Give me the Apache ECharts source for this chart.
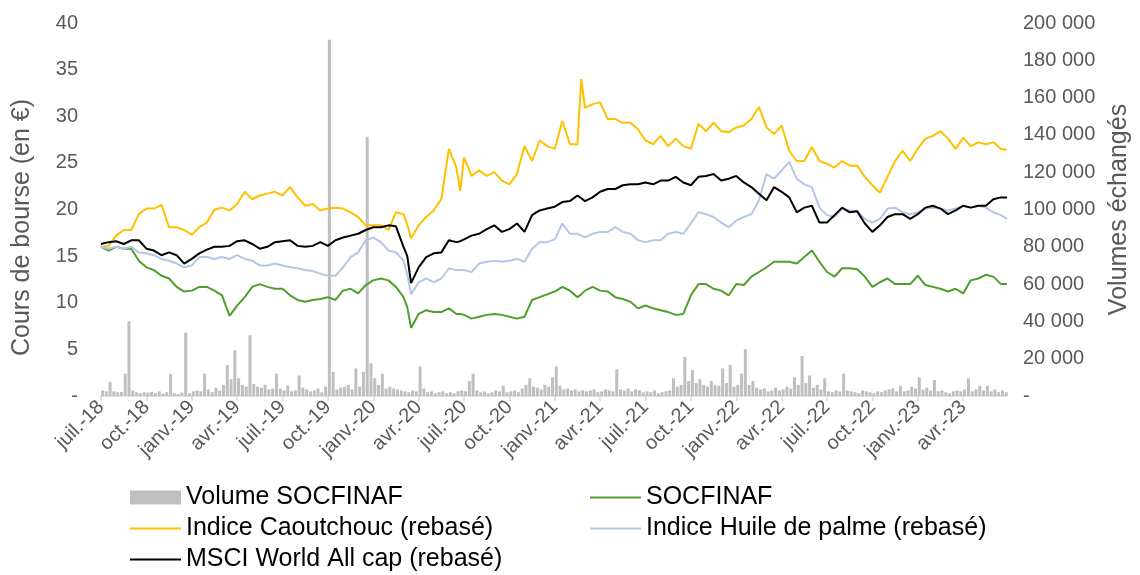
<!DOCTYPE html>
<html>
<head>
<meta charset="utf-8">
<script src="https://cdn.jsdelivr.net/npm/echarts@6/dist/echarts.min.js"></script>
<style>
  html, body { margin: 0; padding: 0; background: #fff; }
  #chart { width: 1140px; height: 575px; }
</style>
</head>
<body>
<div id="chart"></div>
<script>
// mois écoulés depuis le 1er juillet 2018
var lineMonths = [0,0.5,1,1.5,2,2.5,3,3.5,4,4.5,5,5.5,6,6.5,7,7.5,8,8.5,9,9.5,
  10,10.5,11,11.5,12,12.5,13,13.5,14,14.5,15,15.5,16,16.5,17,17.5,18,18.5,19,19.5,
  20,20.25,20.5,21,21.5,22,22.5,23,23.5,23.75,24,24.5,25,25.5,26,26.5,27,27.5,28,28.5,29,29.5,
  30,30.5,31,31.5,31.75,32,32.5,33,33.5,34,34.5,35,35.5,36,36.5,37,37.5,38,38.5,39,39.5,
  40,40.5,41,41.5,42,42.5,43,43.5,44,44.5,45,45.5,46,46.5,47,47.5,48,48.5,49,49.5,
  50,50.5,51,51.5,52,52.5,53,53.5,54,54.5,55,55.5,56,56.5,57,57.5,58,58.5,59,59.5,59.9];

var socfinaf = [16.0,15.6,16.0,15.8,15.8,14.5,13.8,13.5,12.9,12.6,11.7,11.2,11.3,11.7,11.7,11.3,10.8,8.6,9.7,10.6,
  11.7,12.0,11.7,11.5,11.5,10.8,10.3,10.1,10.3,10.4,10.6,10.3,11.3,11.5,11.0,11.9,12.4,12.6,12.4,11.7,
  10.6,9.5,7.3,8.8,9.2,9.0,9.0,9.4,8.8,8.8,8.7,8.3,8.5,8.7,8.8,8.7,8.5,8.3,8.5,10.3,10.6,10.9,
  11.2,11.7,11.3,10.6,10.9,11.3,11.7,11.3,11.2,10.6,10.4,10.1,9.4,9.7,9.4,9.2,9.0,8.7,8.8,10.8,12.0,
  12.0,11.5,11.3,10.8,12.0,11.9,12.8,13.3,13.8,14.4,14.4,14.4,14.2,14.9,15.6,14.4,13.3,12.8,13.7,13.7,
  13.6,12.8,11.7,12.2,12.6,12.0,12.0,12.0,12.9,11.9,11.7,11.5,11.2,11.5,11.0,12.4,12.6,13.0,12.8,12.0,12.0];

var caoutchouc = [16.0,16.1,17.2,17.8,17.8,19.5,20.1,20.1,20.5,18.1,18.1,17.8,17.3,18.1,18.6,20.0,20.2,19.9,20.6,21.9,
  21.1,21.5,21.7,21.9,21.5,22.4,21.3,20.4,20.6,19.9,20.1,20.2,20.1,19.7,19.2,18.3,18.3,18.3,17.8,19.7,
  19.5,18.4,16.9,18.3,19.2,19.9,21.1,26.5,24.5,22.0,25.6,23.6,24.2,23.6,24.0,23.1,22.7,23.8,26.8,25.2,27.4,26.8,
  26.5,29.5,27.0,27.0,34.0,30.9,31.3,31.5,29.7,29.7,29.3,29.3,28.6,27.4,27.0,27.9,26.8,27.6,26.8,26.5,29.2,
  28.4,29.3,28.4,28.3,28.8,29.0,29.7,31.0,28.8,28.1,29.0,26.3,25.2,25.2,26.7,25.2,24.9,24.5,25.2,24.7,
  24.7,23.5,22.6,21.8,23.5,25.2,26.3,25.2,26.5,27.6,27.9,28.4,27.6,26.5,27.7,26.8,27.2,27.0,27.2,26.5,26.4];

var huilePalme = [16.0,15.8,16.0,15.8,16.0,15.4,15.3,15.1,14.7,14.5,14.2,13.8,14.0,14.9,14.9,14.7,14.9,14.7,15.1,14.7,
  14.5,14.0,14.0,14.2,14.0,13.8,13.7,13.5,13.4,13.1,12.9,12.9,13.8,14.9,15.4,16.7,17.0,16.5,15.6,15.4,
  14.5,13.0,10.9,12.2,12.6,12.2,12.6,13.7,13.5,13.5,13.5,13.3,14.2,14.4,14.5,14.4,14.5,14.7,14.4,15.8,16.5,16.5,
  16.8,18.5,17.4,17.4,17.2,17.0,17.4,17.6,17.6,18.1,17.6,17.4,16.7,16.5,16.7,16.7,17.4,17.6,17.4,18.5,19.7,
  19.5,19.2,18.6,18.1,18.8,19.2,19.5,21.0,23.8,23.3,24.2,25.1,23.3,22.7,22.4,20.2,19.4,19.2,20.1,19.9,
  19.8,19.0,18.6,19.0,20.1,20.2,19.7,19.5,19.7,20.1,20.2,20.1,19.9,20.1,20.4,20.2,20.4,20.2,19.7,19.4,19.0];

var msci = [16.3,16.5,16.6,16.3,16.7,16.7,15.8,15.6,15.1,15.4,15.1,14.2,14.7,15.3,15.7,16.0,16.0,16.1,16.6,16.7,
  16.3,15.8,16.0,16.5,16.6,16.7,16.1,16.0,16.1,16.5,16.1,16.7,17.0,17.2,17.4,17.8,18.1,18.1,18.3,18.2,
  16.0,15.0,12.1,13.8,14.9,15.3,15.4,16.7,16.5,16.6,16.8,17.2,17.4,17.9,18.3,17.6,17.9,18.5,17.6,19.4,19.9,20.1,
  20.3,20.8,20.9,21.5,21.2,20.9,21.3,21.9,22.2,22.2,22.6,22.7,22.7,22.9,22.7,23.1,23.1,23.5,22.9,22.6,23.5,
  23.6,23.8,23.1,23.3,23.6,22.9,22.4,21.7,21.0,22.4,21.9,21.3,19.7,20.2,20.4,18.6,18.6,19.4,20.2,19.7,
  19.8,18.5,17.6,18.3,19.2,19.5,19.5,19.0,19.5,20.2,20.4,20.1,19.5,19.9,20.4,20.2,20.4,20.4,21.1,21.3,21.3];

// volumes, un point par quart de mois à partir de juillet 2018
var volStepMonth = 0.25;
var volumes = [
  3000,2500,7500,2500,2000,2200,12000,40000,3000,2000,1500,2000,
  1800,2200,1500,2500,1200,2000,11800,1500,1000,1800,34000,1500,
  2500,3000,2500,12000,3500,2000,4500,3000,6000,16600,9000,24600,
  9500,6000,5000,32600,6500,5000,4500,6000,3500,4000,12000,4000,
  3000,5500,2500,3000,11000,4500,3500,2500,3000,4000,2000,5000,
  191000,13000,3500,4500,5000,6000,3500,14800,5000,13000,139000,17500,
  9500,6000,12000,4000,5000,4000,3500,3000,2500,2000,3000,2500,
  15800,4000,2000,2500,1500,2000,2500,1500,2000,1500,2500,3000,
  2500,8000,12000,3000,2000,2500,1500,2000,3000,2500,5500,2000,
  2500,3000,2000,4000,6000,9500,5000,4500,3500,6000,5000,10000,
  15800,5500,3500,4000,3000,3500,2500,3000,2500,3000,3500,2000,
  2500,3500,3000,2500,14300,3500,3000,4000,2500,3500,3000,2000,
  2500,2000,3000,1500,2000,2500,3000,9500,5000,6000,21000,8000,
  14000,7000,9000,6000,5000,8000,6000,5500,14800,7000,16600,5000,
  6000,12000,25100,6000,8000,4500,3500,4000,2500,3000,4500,3000,
  3500,5000,4000,10000,6000,21400,7000,11000,4500,6000,3500,9500,
  2500,2000,3000,2500,12000,3000,2500,2000,1500,3000,2500,2000,
  1500,2500,2000,3000,3500,4000,2500,5500,2500,3000,5000,4000,
  10000,3500,4500,3000,8600,2500,3000,2000,1500,2500,3000,2500,
  3500,9500,2500,3500,5500,3000,5500,2500,3500,2000,3000,2000];

var tickLabels = ['juil.-18','oct.-18','janv.-19','avr.-19','juil.-19','oct.-19','janv.-20','avr.-20',
  'juil.-20','oct.-20','janv.-21','avr.-21','juil.-21','oct.-21','janv.-22','avr.-22','juil.-22',
  'oct.-22','janv.-23','avr.-23'];

var FONT = 'Liberation Sans, Arial, sans-serif';
var tickPos = tickLabels.map(function (l, i) { return i * 3; });

function pairs(xs, ys) {
  return ys.map(function (v, i) { return [xs[i], v]; });
}
var volData = volumes.map(function (v, i) { return [i * volStepMonth + 0.1, v]; });

var chart = echarts.init(document.getElementById('chart'));

var legendText = { fontSize: 25, color: '#000', fontFamily: FONT };

var option = {
  backgroundColor: '#ffffff',
  animation: false,
  grid: { left: 101, right: 133, top: 23, bottom: 179 },
  legend: [{
    orient: 'vertical', left: 129, top: 485, itemWidth: 51, itemHeight: 14, itemGap: 6, padding: 0,
    textStyle: legendText,
    itemStyle: { opacity: 0 },
    data: [
      { name: 'Volume SOCFINAF', icon: 'rect', itemStyle: { opacity: 1, color: '#BFBFBF' } },
      'Indice Caoutchouc (rebasé)', 'MSCI World All cap (rebasé)'
    ]
  }, {
    orient: 'vertical', left: 589, top: 485, itemWidth: 51, itemHeight: 14, itemGap: 6, padding: 0,
    textStyle: legendText,
    itemStyle: { opacity: 0 },
    data: ['SOCFINAF', 'Indice Huile de palme (rebasé)']
  }],
  xAxis: {
    type: 'value', min: 0, max: 59.9, interval: 3,
    splitLine: { show: false },
    axisLine: { lineStyle: { color: '#D9D9D9', width: 1.5 } },
    axisTick: { length: 5, lineStyle: { color: '#D9D9D9', width: 1.5 }, customValues: tickPos },
    axisLabel: {
      customValues: tickPos, rotate: 45, margin: 8, color: '#595959', fontSize: 20, fontFamily: FONT,
      formatter: function (v) { var i = Math.round(v / 3); return tickLabels[i] || ''; }
    }
  },
  yAxis: [{
    type: 'value', min: 0, max: 40, interval: 5, position: 'left',
    name: 'Cours de bourse (en €)', nameLocation: 'middle', nameRotate: 90, nameGap: 66,
    nameTextStyle: { fontSize: 25, color: '#595959', fontFamily: FONT, padding: [0, 36, 0, 0] },
    splitLine: { show: false }, axisLine: { show: false }, axisTick: { show: false },
    axisLabel: {
      margin: 23, color: '#595959', fontSize: 20, fontFamily: FONT,
      formatter: function (v) { return v === 0 ? '-' : String(v); }
    }
  }, {
    type: 'value', min: 0, max: 200000, interval: 20000, position: 'right',
    name: 'Volumes échangés', nameLocation: 'middle', nameRotate: 90, nameGap: 99,
    nameTextStyle: { fontSize: 25, color: '#595959', fontFamily: FONT },
    splitLine: { show: false }, axisLine: { show: false }, axisTick: { show: false },
    axisLabel: {
      margin: 16, color: '#595959', fontSize: 20, fontFamily: FONT,
      formatter: function (v) { return v === 0 ? '-' : String(v).replace(/\B(?=(\d{3})+(?!\d))/g, ' '); }
    }
  }],
  series: [{
    name: 'Volume SOCFINAF', type: 'bar', yAxisIndex: 1, barWidth: 3,
    itemStyle: { color: '#BFBFBF' }, data: volData, z: 1
  }, {
    name: 'SOCFINAF', type: 'line', symbol: 'none', z: 3,
    lineStyle: { color: '#4E9F2B', width: 2 }, itemStyle: { color: '#4E9F2B' },
    data: pairs(lineMonths, socfinaf)
  }, {
    name: 'Indice Caoutchouc (rebasé)', type: 'line', symbol: 'none', z: 3,
    lineStyle: { color: '#FFC000', width: 2 }, itemStyle: { color: '#FFC000' },
    data: pairs(lineMonths, caoutchouc)
  }, {
    name: 'Indice Huile de palme (rebasé)', type: 'line', symbol: 'none', z: 3,
    lineStyle: { color: '#B4C7E7', width: 2 }, itemStyle: { color: '#B4C7E7' },
    data: pairs(lineMonths, huilePalme)
  }, {
    name: 'MSCI World All cap (rebasé)', type: 'line', symbol: 'none', z: 4,
    lineStyle: { color: '#000000', width: 2 }, itemStyle: { color: '#000000' },
    data: pairs(lineMonths, msci)
  }]
};

chart.setOption(option);
</script>
</body>
</html>
